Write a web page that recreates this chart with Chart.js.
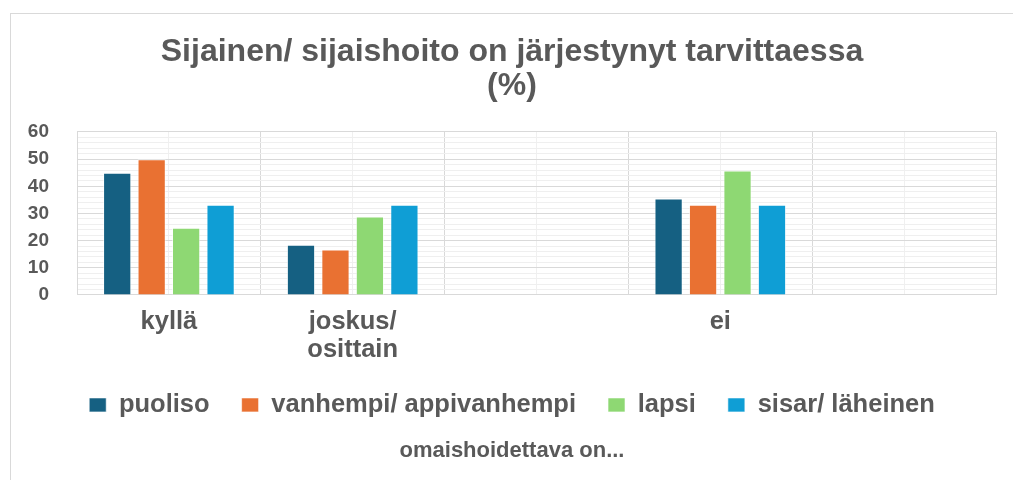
<!DOCTYPE html>
<html>
<head>
<meta charset="utf-8">
<script src="https://cdn.jsdelivr.net/npm/chart.js@4/dist/chart.umd.min.js"></script>
<style>
  html, body { margin: 0; padding: 0; background: #fff; overflow: hidden; }
  #wrap { position: relative; width: 1013px; height: 480px; }
  #frame { position: absolute; left: 10px; top: 13px; width: 1020px; height: 480px; border: 1px solid #d9d9d9; }
  canvas { position: absolute; left: 0; top: 0; }
</style>
</head>
<body>
<div id="wrap">
  <div id="frame"></div>
  <canvas id="chart" width="1013" height="480"></canvas>
</div>
<script>
// categories (blank slots are empty groups in the original)
const categories = ['kyllä', ['joskus/', 'osittain'], '', 'ei', ''];
const halfSlots = ['', '', '', '', '', '', '', '', '', ''];

// % values per relation
const puoliso = [45, 18.5, null, 35.5, null];
const vanhempi = [50, 16.7, null, 33.2, null];
const lapsi = [24.7, 28.9, null, 45.8, null];
const sisar = [33.2, 33.2, null, 33.2, null];

const seriesNames = ['puoliso', 'vanhempi/ appivanhempi', 'lapsi', 'sisar/ läheinen'];
const seriesColors = ['#156082', '#E97132', '#8ED873', '#0F9ED5'];

const titleLines = ['Sijainen/ sijaishoito on järjestynyt tarvittaessa', '(%)'];
const axisTitle = 'omaishoidettava on...';

const textGray = '#595959';
const fontFam = '"Liberation Sans", Arial, sans-serif';

const ctx = document.getElementById('chart').getContext('2d');

new Chart(ctx, {
  type: 'bar',
  data: {
    labels: categories,
    datasets: [puoliso, vanhempi, lapsi, sisar].map((vals, i) => ({
      label: seriesNames[i],
      data: vals,
      backgroundColor: seriesColors[i],
      borderColor: 'rgba(255,255,255,0.6)',
      borderWidth: 1,
      barPercentage: 0.82,
      categoryPercentage: 0.75
    }))
  },
  options: {
    responsive: false,
    animation: false,
    layout: { padding: { left: 28, right: 17, top: 35, bottom: 14 } },
    scales: {
      x: {
        grid: { color: '#d9d9d9', offset: true, drawTicks: false },
        border: { color: '#d9d9d9' },
        ticks: {
          color: textGray,
          font: { family: fontFam, size: 25.5, weight: 'bold', lineHeight: 1.1 },
          padding: 13,
          maxRotation: 0,
          autoSkip: false
        },
        afterFit: s => { s.height = 65.25; }
      },
      x2: {
        type: 'category',
        labels: halfSlots,
        position: 'bottom',
        weight: 1,
        grid: {
          offset: true,
          drawTicks: false,
          color: c => (c.index % 2 === 1 ? '#f0f0f0' : 'rgba(0,0,0,0)')
        },
        border: { display: false },
        ticks: { display: false }
      },
      y: {
        min: 0,
        max: 60,
        grid: {
          drawTicks: false,
          color: c => (c.tick.value % 10 === 0 ? '#d9d9d9' : '#efefef')
        },
        border: { color: '#d9d9d9' },
        ticks: {
          stepSize: 2,
          autoSkip: false,
          padding: 28,
          color: textGray,
          font: { family: fontFam, size: 19, weight: 'bold' },
          callback: v => (v % 10 === 0 ? v : '')
        },
        afterFit: s => { s.width = 49; }
      }
    },
    plugins: {
      title: {
        display: true,
        text: titleLines,
        color: textGray,
        font: { family: fontFam, size: 32, weight: 'bold', lineHeight: 1.07 },
        padding: { top: 0, bottom: 28.5 }
      },
      subtitle: {
        display: true,
        position: 'bottom',
        text: axisTitle,
        color: textGray,
        font: { family: fontFam, size: 22, weight: 'bold', lineHeight: 1.05 },
        padding: { top: 11.7, bottom: 3.5 }
      },
      legend: {
        position: 'bottom',
        labels: {
          color: textGray,
          font: { family: fontFam, size: 25.5, weight: 'bold' },
          boxWidth: 17,
          boxHeight: 14,
          padding: 32
        }
      },
      tooltip: { enabled: false }
    }
  }
});
</script>
</body>
</html>
